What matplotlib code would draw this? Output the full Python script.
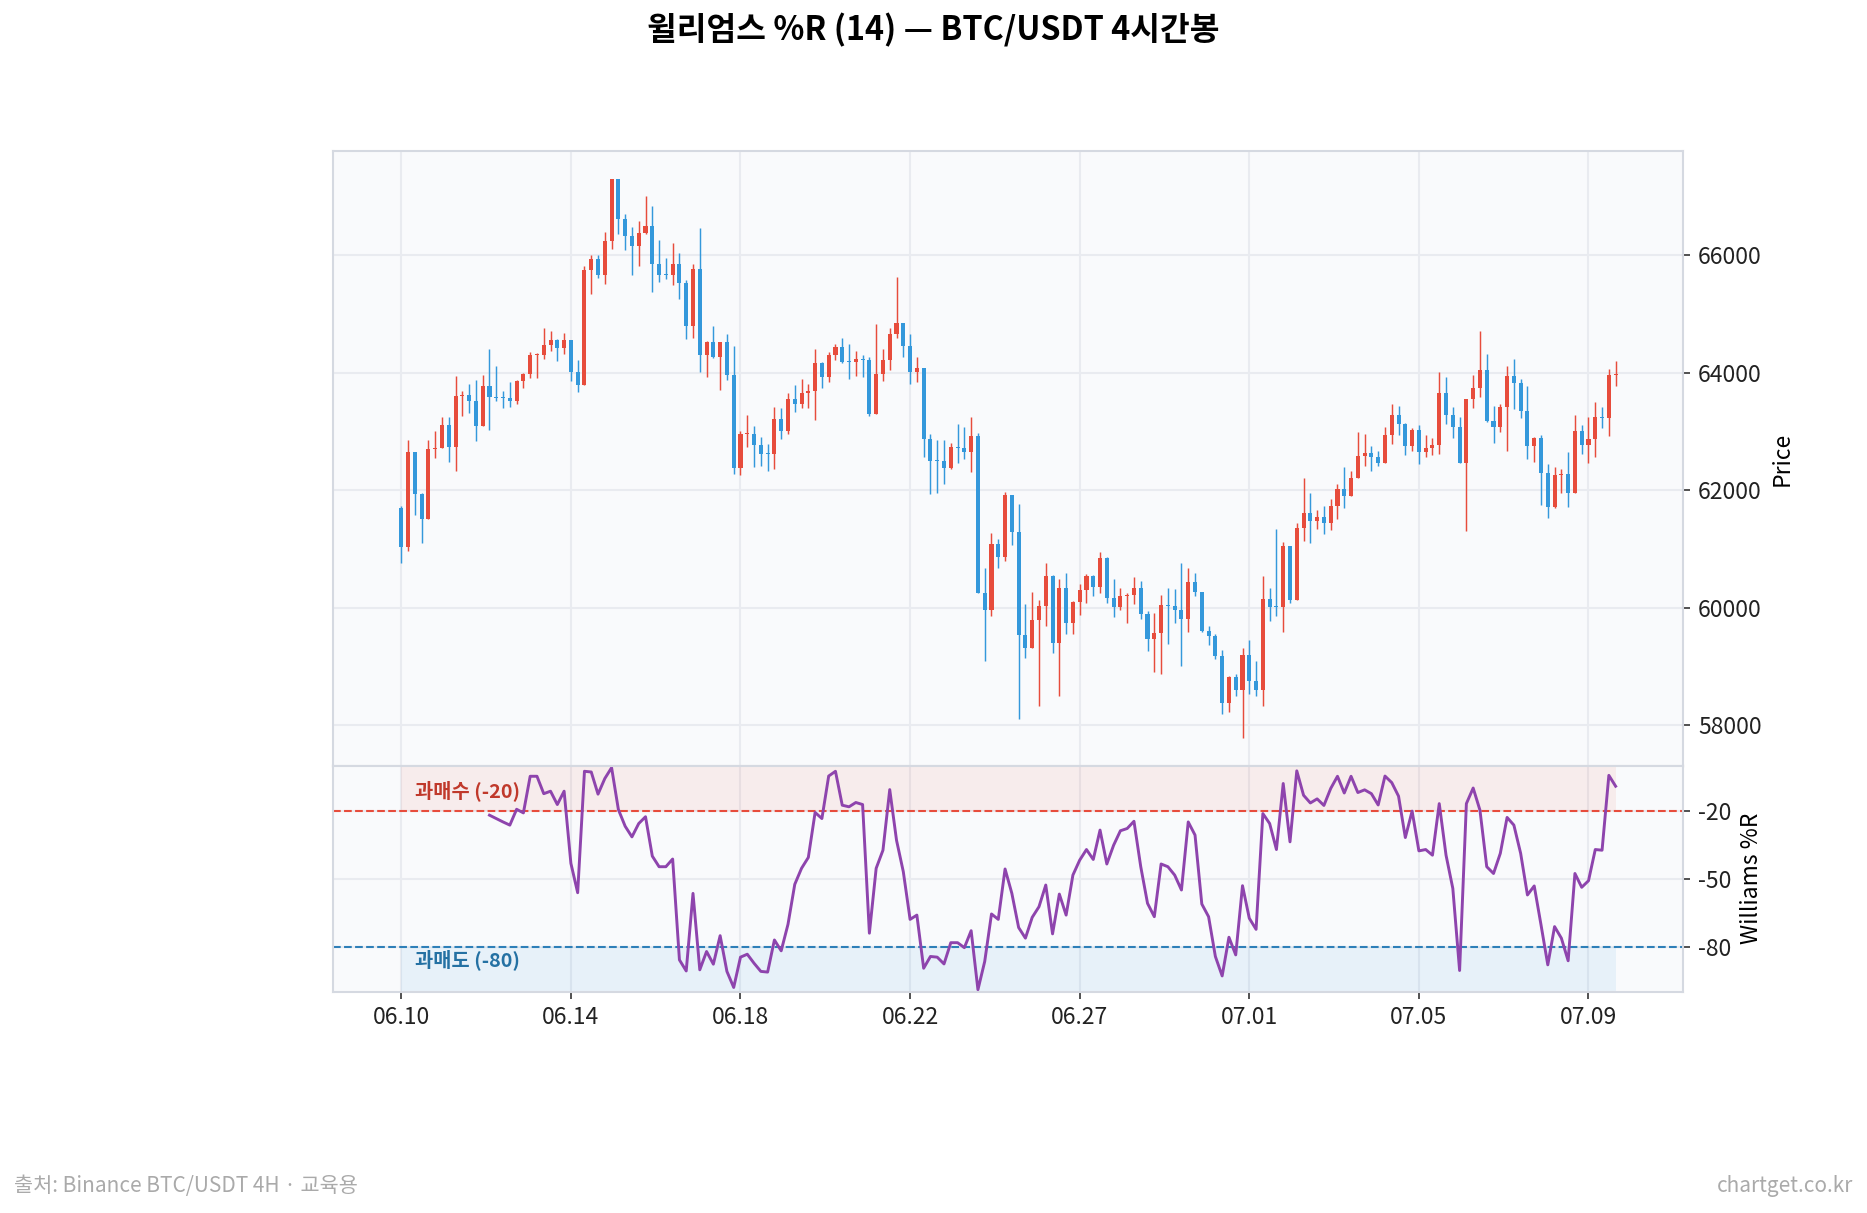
import matplotlib
matplotlib.use("Agg")
import matplotlib.pyplot as plt
import numpy as np

plt.rcParams["font.family"] = ["Noto Sans CJK KR", "DejaVu Sans"]
plt.rcParams["axes.unicode_minus"] = False

# BTC/USDT 4H, 180 candles starting 06.10 08:00 (open of each candle = previous close)
first_open = 61698
closes = [
    61032, 62649, 61941, 61504, 62704, 62718, 63106, 62739, 63599, 63627,
    63523, 63093, 63773, 63592, 63571, 63565, 63523, 63856, 63974, 64300,
    64307, 64466, 64557, 64425, 64557, 64015, 63793, 65743, 65930, 65667,
    66236, 67290, 66617, 66326, 66159, 66375, 66492, 65854, 65667, 65660,
    65854, 65528, 64800, 65764, 64293, 64522, 64272, 64522, 63967, 62378,
    62954, 62960, 62767, 62621, 62614, 63211, 63016, 63551, 63474, 63655,
    63689, 64161, 63932, 64300, 64432, 64189, 64175, 64231, 64210, 63294,
    63974, 64217, 64654, 64841, 64460, 64015, 64071, 62878, 62503, 62496,
    62385, 62732, 62725, 62656, 62919, 60248, 59957, 61088, 60873, 61920,
    61282, 59547, 59311, 59797, 60033, 60540, 59409, 60338, 59748, 60102,
    60297, 60540, 60359, 60845, 60172, 60019, 60200, 60220, 60338, 59894,
    59478, 59568, 60047, 60033, 59957, 59818, 60442, 60269, 59610, 59520,
    59187, 58375, 58826, 58611, 59200, 58763, 58611, 60151, 60019, 60012,
    61053, 60130, 61358, 61615, 61469, 61553, 61435, 61740, 62024, 61906,
    62205, 62579, 62635, 62572, 62468, 62940, 63287, 63134, 62760, 63023,
    62656, 62725, 62767, 63655, 63287, 63079, 62468, 63551, 63738, 64043,
    63183, 63079, 63412, 63939, 63821, 63356, 62760, 62885, 62302, 61712,
    62267, 62281, 61962, 63002, 62774, 62864, 63238, 63224, 63960, 63968,
]
highs = [
    61726, 62850, 62649, 61955, 62850, 63002, 63252, 63238, 63939, 63696,
    63800, 63877, 63960, 64397, 64106, 63696, 63835, 63877, 63995, 64356,
    64342, 64765, 64709, 64570, 64668, 64557, 64217, 65806, 65993, 65993,
    66388, 67290, 67290, 66694, 66471, 66576, 67001, 66832, 66250, 65944,
    66201, 66042, 65577, 65854, 66458, 64543, 64800, 64522, 64654, 64446,
    63002, 63273, 63100, 62912, 62781, 63412, 63391, 63662, 63787, 63898,
    63800, 64404, 64182, 64356, 64487, 64584, 64487, 64370, 64293, 64272,
    64827, 64404, 64765, 65625, 64848, 64654, 64272, 64085, 62954, 62850,
    62850, 62801, 63127, 63072, 63238, 62975, 60671, 61275, 61171, 61969,
    61920, 61761, 60061, 60269, 60130, 60755, 60567, 60498, 60595, 60116,
    60401, 60581, 60567, 60942, 60866, 60484, 60331, 60255, 60533, 60456,
    59950, 59908, 60227, 60345, 60318, 60769, 60671, 60588, 60269, 59700,
    59554, 59284, 58840, 58875, 59311, 59450, 59089, 60540, 60345, 61344,
    61116, 61053, 61435, 62205, 61962, 61657, 61726, 61858, 62101, 62392,
    62323, 62988, 62954, 62746, 62676, 63072, 63461, 63440, 63141, 63058,
    63106, 62933, 62885, 64009, 63925, 63412, 63238, 63551, 63967, 64709,
    64314, 63440, 63461, 64113, 64238, 63891, 63773, 62912, 62933, 62441,
    62392, 62364, 62649, 63273, 63106, 63252, 63495, 63412, 64064, 64196,
]
lows = [
    60755, 60963, 61587, 61101, 61504, 62545, 62718, 62489, 62336, 63266,
    63308, 62836, 63093, 63030, 63516, 63391, 63412, 63474, 63738, 63911,
    63911, 64224, 64376, 64203, 64321, 63863, 63675, 63793, 65341, 65604,
    65514, 66111, 66354, 66083, 65653, 65806, 66361, 65369, 65549, 65590,
    65486, 65250, 64564, 64584, 64008, 63918, 64251, 63703, 63870, 62281,
    62267, 62739, 62392, 62406, 62323, 62364, 62871, 62954, 63329, 63391,
    63391, 63190, 63738, 63849, 64210, 64168, 63897, 63946, 63932, 63266,
    63294, 63863, 64043, 64584, 64272, 63800, 63835, 62559, 61934, 61962,
    62101, 62364, 62461, 62531, 62316, 60248, 59103, 59860, 60685, 60803,
    61067, 58118, 59145, 59311, 58326, 59700, 59228, 58500, 59554, 59561,
    59873, 60089, 60200, 60248, 60075, 59853, 59964, 59749, 60061, 59811,
    59263, 58909, 58881, 59381, 59735, 59006, 59582, 60200, 59596, 59367,
    59124, 58202, 58236, 58500, 57792, 58534, 58500, 58326, 59783, 59866,
    59589, 60089, 60130, 61143, 61101, 61344, 61254, 61330, 61518, 61691,
    61906, 62205, 62406, 62330, 62406, 62468, 62781, 62933, 62593, 62663,
    62440, 62559, 62600, 62614, 63134, 62884, 62468, 61303, 63391, 63578,
    63162, 62801, 62989, 62663, 63377, 63225, 62531, 62475, 61747, 61532,
    61698, 61948, 61712, 61948, 62614, 62461, 62559, 63058, 62919, 63771,
]

# Williams %R (14), first value at candle 13
williams_r = [
    -21.9, -23.4, -24.9, -26.3, -19.3, -20.9, -4.7, -4.7, -12.4, -11.3,
    -17.2, -11.3, -43.2, -56.2, -2.5, -2.8, -12.6, -5.7, -0.9, -19.4,
    -26.8, -31.5, -25.6, -22.6, -40.0, -44.7, -44.7, -41.3, -85.9, -90.8,
    -56.5, -90.3, -82.2, -87.8, -75.2, -91.0, -98.1, -84.7, -83.4, -87.4,
    -91.0, -91.3, -77.1, -81.9, -70.2, -52.5, -45.4, -40.6, -20.7, -23.4,
    -4.6, -2.5, -17.5, -18.2, -16.3, -17.2, -74.1, -45.4, -37.4, -10.6,
    -33.0, -46.9, -68.0, -66.1, -89.6, -84.4, -84.7, -87.7, -78.3, -78.3,
    -80.5, -73.0, -99.1, -86.6, -65.6, -68.0, -45.7, -56.5, -71.6, -76.3,
    -67.1, -62.4, -52.8, -74.4, -56.8, -66.1, -48.4, -41.8, -37.1, -41.5,
    -28.5, -43.5, -35.2, -28.8, -27.8, -24.6, -44.7, -60.9, -66.8, -43.5,
    -44.7, -48.4, -55.0, -24.9, -30.7, -61.2, -66.8, -84.4, -93.0, -75.9,
    -83.7, -53.1, -67.5, -72.4, -21.2, -25.6, -37.1, -7.9, -33.7, -2.3,
    -13.1, -16.5, -14.7, -17.6, -10.1, -4.7, -12.1, -4.7, -11.9, -10.7,
    -12.4, -17.4, -4.6, -7.5, -13.5, -31.8, -20.1, -37.7, -37.1, -39.6,
    -16.8, -39.6, -54.3, -90.6, -16.8, -9.9, -19.7, -44.7, -47.7, -38.8,
    -22.9, -26.3, -38.8, -57.2, -53.2, -70.4, -88.1, -71.2, -76.3, -86.3,
    -47.7, -53.8, -50.9, -37.1, -37.4, -4.3, -9.1,
]

tick_labels = ["06.10", "06.14", "06.18", "06.22", "06.27", "07.01", "07.05", "07.09"]
tick_step = 25

UP = "#e74c3c"
DOWN = "#3498db"
GRID = "#e9ebf0"
SPINE = "#d5d9e1"
FACE = "#f9fafc"

closes = np.array(closes, dtype=float)
opens = np.concatenate([[first_open], closes[:-1]])
highs = np.array(highs, dtype=float)
lows = np.array(lows, dtype=float)
x = np.arange(len(closes))
wr = np.array(williams_r)
wr_x = np.arange(len(closes) - len(wr), len(closes))

fig = plt.figure(figsize=(1867 / 150, 1213 / 150), dpi=150)
ax1 = fig.add_axes([0.1786, 0.3688, 0.7231, 0.5065])
ax2 = fig.add_axes([0.1786, 0.1824, 0.7231, 0.1864], sharex=ax1)

for ax in (ax1, ax2):
    ax.set_facecolor(FACE)
    ax.grid(True, color=GRID, linewidth=1.0)
    ax.set_axisbelow(True)
    for s in ax.spines.values():
        s.set_color(SPINE)
        s.set_linewidth(1.0)
    ax.yaxis.tick_right()
    ax.yaxis.set_label_position("right")
    ax.tick_params(axis="both", colors="#333333", labelsize=11, labelcolor="#222222")

# candles
up = closes >= opens
colors = np.where(up, UP, DOWN)
ax1.vlines(x, lows, highs, colors=colors, linewidth=0.7)
body_low = np.minimum(opens, closes)
body_h = np.maximum(np.abs(closes - opens), 15)
ax1.bar(x, body_h, bottom=body_low, width=0.6, color=colors, linewidth=0)

ax1.set_ylabel("Price", fontsize=11)
ax1.tick_params(axis="x", bottom=False, labelbottom=False)
ax1.set_xlim(-10, len(closes) - 1 + 10)

# Williams %R panel
ax2.fill_between(x, -20, 0, color="#e74c3c", alpha=0.08, linewidth=0)
ax2.fill_between(x, -100, -80, color="#3498db", alpha=0.09, linewidth=0)
ax2.axhline(-20, color="#e74c3c", linestyle="--", linewidth=1.0)
ax2.axhline(-80, color="#2e7fb8", linestyle="--", linewidth=1.0)
ax2.plot(wr_x, wr, color="#8e44ad", linewidth=1.4)
ax2.text(2, -11, "과매수 (-20)", color="#c0392b", fontsize=9.5, fontweight="bold", va="center")
ax2.text(2, -86, "과매도 (-80)", color="#2471a3", fontsize=9.5, fontweight="bold", va="center")
ax2.set_ylim(-100, 0)
ax2.set_yticks([-20, -50, -80])
ax2.set_ylabel("Williams %R", fontsize=11)

ticks = list(range(0, len(closes), tick_step))
ax2.set_xticks(ticks)
ax2.set_xticklabels(tick_labels)

fig.suptitle("윌리엄스 %R (14) — BTC/USDT 4시간봉", fontsize=15.5, fontweight="bold",
             y=0.975, va="center")
fig.text(0.0075, 0.022, "출처: Binance BTC/USDT 4H · 교육용", fontsize=10, color="#aaaaaa", va="center")
fig.text(0.9925, 0.022, "chartget.co.kr", fontsize=10, color="#aaaaaa", ha="right", va="center")

fig.savefig("out.png", dpi=150)
